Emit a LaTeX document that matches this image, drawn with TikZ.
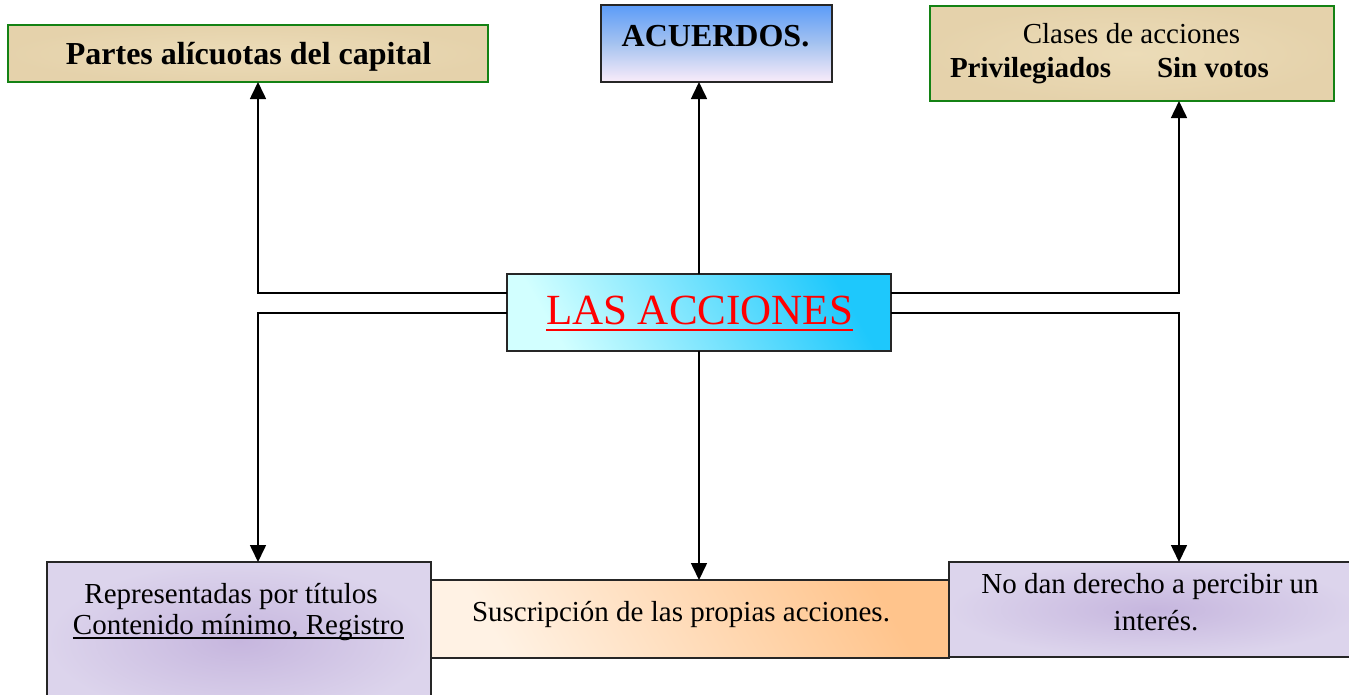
\documentclass[tikz,border=0pt]{standalone}
\usepackage{fontspec}
\setmainfont{Liberation Serif}
\usetikzlibrary{arrows.meta,calc}
\definecolor{parch}{RGB}{236,220,184}
\definecolor{parchB}{RGB}{226,206,166}
\definecolor{grn}{RGB}{20,130,20}
\definecolor{acuT}{RGB}{92,156,248}
\definecolor{acuM}{RGB}{165,195,240}
\definecolor{acuB}{RGB}{250,236,250}
\definecolor{cyD}{RGB}{30,200,252}
\definecolor{cyL}{RGB}{210,255,255}
\definecolor{orD}{RGB}{255,196,140}
\definecolor{orL}{RGB}{255,242,228}
\definecolor{lavO}{RGB}{220,212,236}
\definecolor{lavI}{RGB}{198,182,222}
\begin{document}
\begin{tikzpicture}[x=1pt,y=-1pt,
  box/.style={draw=black!85,line width=1.5pt,inner sep=0pt,outer sep=0pt},
  parchbox/.style={box,draw=grn,line width=2pt,inner color=parch,outer color=parchB!70!parch},
  lavbox/.style={box,inner color=lavI,outer color=lavO},
  txt/.style={inner sep=0pt,outer sep=0pt,anchor=base},
  big/.style={font=\fontsize{32}{34}\selectfont\bfseries},
  reg/.style={font=\fontsize{29}{32}\selectfont},
  conn/.style={line width=1.6pt,black},
  arr/.style={conn,-{Triangle[width=16pt,length=17pt]}}]
\useasboundingbox (0,0) rectangle (1349,694);
\clip (0,0) rectangle (1349,694);
% boxes
\node[parchbox,minimum width=480pt,minimum height=57pt] (b1) at (248,53.5) {};
\node[box,top color=acuT,bottom color=acuB,middle color=acuM,minimum width=231pt,minimum height=77pt] (b2) at (716.5,43.5) {};
\node[parchbox,minimum width=404pt,minimum height=95pt] (b3) at (1132,53.5) {};
\node[box,top color=cyD,bottom color=cyL,shading angle=-60,minimum width=384pt,minimum height=77pt] (c) at (699,312.5) {};
\node[lavbox,minimum width=384pt,minimum height=158pt] (b4) at (239,641) {};
\node[box,top color=orD,bottom color=orL,shading angle=-60,minimum width=518pt,minimum height=78pt] (b5) at (690,619) {};
\node[lavbox,minimum width=410pt,minimum height=95pt] (b6) at (1154,609.5) {};
% texts
\node[txt,big] (t1) at (248.5,64) {Partes alícuotas del capital};
\node[txt,big] (t2) at (715.5,46) {ACUERDOS.};
\node[txt,reg] (t3) at (1131.5,43) {Clases de acciones};
\node[txt,reg,anchor=base west,font=\fontsize{29}{32}\selectfont\bfseries] (t3a) at (950,77) {Privilegiados};
\node[txt,reg,anchor=base west,font=\fontsize{29}{32}\selectfont\bfseries] (t3b) at (1157,77) {Sin votos};
\node[txt,font=\fontsize{43}{46}\selectfont,text=red] (tc) at (699.5,324) {LAS ACCIONES};
\draw[red,line width=2.5pt] ([yshift=-6pt]tc.base west) -- ([yshift=-6pt]tc.base east);
\node[txt,reg] (t4a) at (231,603) {Representadas por títulos};
\node[txt,reg] (t4b) at (238.5,634) {Contenido mínimo, Registro};
\draw[line width=1.5pt] ([yshift=-4pt]t4b.base west) -- ([yshift=-4pt]t4b.base east);
\node[txt,reg] (t5) at (681,621) {Suscripción de las propias acciones.};
\node[txt,reg] (t6a) at (1150,593) {No dan derecho a percibir un};
\node[txt,reg] (t6b) at (1156,630) {interés.};
% connectors
\coordinate (cl1) at (c.west |- 0,293);
\coordinate (cl2) at (c.west |- 0,313);
\coordinate (cr1) at (c.east |- 0,293);
\coordinate (cr2) at (c.east |- 0,313);
\draw[arr] (cl1) -| (258,0 |- b1.south);
\draw[arr] (cl2) -| (258,0 |- b4.north);
\draw[arr] (c.north) -- (c.north |- b2.south);
\draw[arr] (c.south) -- (c.south |- b5.north);
\draw[arr] (cr1) -| (1179,0 |- b3.south);
\draw[arr] (cr2) -| (1179,0 |- b6.north);
\end{tikzpicture}
\end{document}
